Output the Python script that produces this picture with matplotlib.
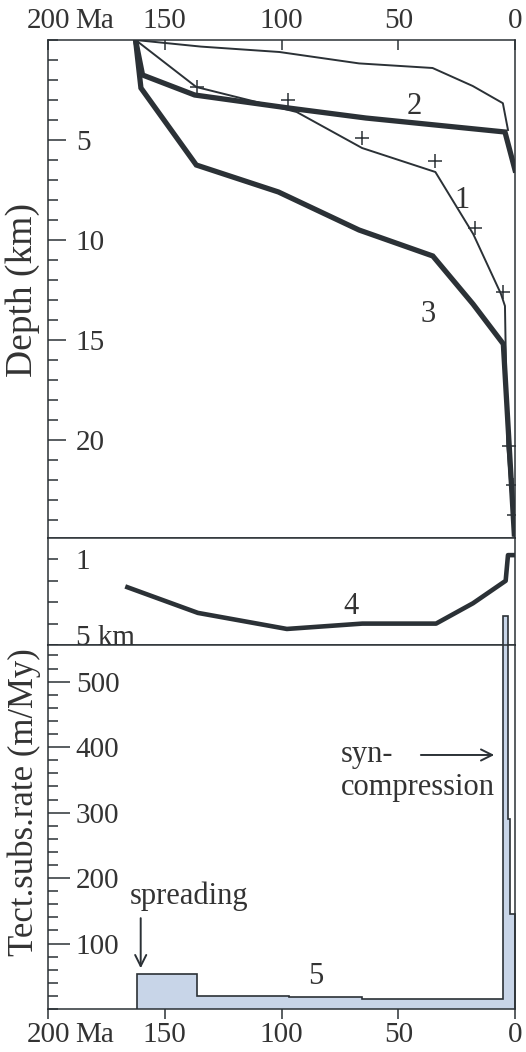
import matplotlib
matplotlib.use('Agg')
import matplotlib.pyplot as plt
from matplotlib.ticker import MultipleLocator, FixedLocator

plt.rcParams['font.family'] = ['Liberation Serif', 'DejaVu Serif']

ink = '#2b3136'
txt = '#333333'
fill = '#c8d5e8'

# ---- data ----
# top panel: burial curves, age (Ma) vs depth (km)
age_top = [162.5, 134.5, 100.9, 66.8, 35.3, 18.1, 5.2, 3.0]
dep_top = [0.0, 0.33, 0.6, 1.17, 1.4, 2.3, 3.16, 4.5]

age1 = [162.5, 136.5, 93.5, 65.5, 34.1, 17.9, 6.0, 4.3, 3.3, 0.3]
dep1 = [0.0, 2.35, 3.6, 5.4, 6.6, 9.7, 12.7, 13.3, 20.3, 24.8]

# measured points (+)
age_pts = [136.3, 97.3, 65.5, 34.1, 17.2, 5.3, 2.4, 1.0, 0.4]
dep_pts = [2.37, 3.0, 4.9, 6.05, 9.4, 12.6, 20.3, 22.25, 23.75]

age2 = [162.5, 159.5, 137.2, 97.0, 63.9, 4.3, 0.0]
dep2 = [0.0, 1.75, 2.75, 3.4, 3.9, 4.6, 6.5]

age3 = [162.5, 160.2, 136.5, 101.3, 66.8, 35.2, 18.0, 5.0, 0.3]
dep3 = [0.0, 2.4, 6.25, 7.6, 9.5, 10.8, 13.2, 15.2, 24.7]

# middle panel: curve 4
age4 = [166.0, 135.8, 97.7, 65.4, 33.8, 18.0, 4.0, 3.0, 0.0]
dep4 = [2.3, 3.5, 4.25, 4.0, 4.0, 3.05, 2.0, 0.8, 0.8]

# bottom panel: tectonic subsidence rate (m/My), step per interval
rate_edges = [0.0, 2.0, 3.0, 5.0, 33.8, 65.4, 96.8, 136.1, 161.9]
rate = [145, 290, 600, 15, 16, 18, 20, 54]

age_ticks = [200, 150, 100, 50, 0]
age_labels = ['200', '150', '100', '50', '0']
dep_ticks = [5, 10, 15, 20]
mid_ticks = [1, 2, 3, 4, 5]
mid_labels = ['1', '', '', '', '5 km']
rate_ticks = [100, 200, 300, 400, 500]

# ---- layout ----
fig = plt.figure(figsize=(5.26, 10.52), dpi=100)
L, W = 48 / 526, 467 / 526
ax1 = fig.add_axes([L, 1 - 538 / 1052, W, 498 / 1052])
ax2 = fig.add_axes([L, 1 - 645 / 1052, W, 107 / 1052])
ax3 = fig.add_axes([L, 1 - 1009 / 1052, W, 364 / 1052])

for ax in (ax1, ax2, ax3):
    ax.set_xlim(200, 0)
    for s in ax.spines.values():
        s.set_color(ink)
        s.set_linewidth(1.1)

# top panel
ax1.plot(age_top, dep_top, color=ink, lw=1.4)
ax1.plot(age1, dep1, color=ink, lw=1.4)
ax1.plot(age2, dep2, color=ink, lw=3.8, solid_joinstyle='miter')
ax1.plot(age3, dep3, color=ink, lw=3.8, solid_joinstyle='miter')
ax1.plot(age_pts, dep_pts, ls='none', marker='+', ms=10, mew=1.1, color=ink)
ax1.set_ylim(24.9, 0)
ax1.xaxis.tick_top()
ax1.set_xticks(age_ticks)
ax1.set_xticklabels(age_labels)
ax1.tick_params(axis='x', direction='in', length=7, width=1.1, pad=4,
                labelsize=21, color=ink, labelcolor=txt)
ax1.yaxis.set_major_locator(FixedLocator(dep_ticks))
ax1.yaxis.set_minor_locator(MultipleLocator(1))
ax1.tick_params(axis='y', which='major', direction='in', length=13, width=1.1,
                pad=-20, labelsize=21, color=ink, labelcolor=txt)
ax1.tick_params(axis='y', which='minor', direction='in', length=7, width=1.1, color=ink)
for t in ax1.get_yticklabels():
    t.set_ha('left')

ax1.text(22.8, 8.0, '1', fontsize=22, color=txt, ha='center', va='center')
ax1.text(43.1, 3.33, '2', fontsize=22, color=txt, ha='center', va='center')
ax1.text(37.4, 13.75, '3', fontsize=22, color=txt, ha='center', va='center')

# middle panel
ax2.plot(age4, dep4, color=ink, lw=3.3)
ax2.set_ylim(5.0, 0)
ax2.set_xticks([])
ax2.set_yticks(mid_ticks)
ax2.set_yticklabels(mid_labels)
ax2.tick_params(axis='y', direction='in', length=7, width=1.1, pad=-20,
                labelsize=21, color=ink, labelcolor=txt)
for t in ax2.get_yticklabels():
    t.set_ha('left')
ax2.get_yticklabels()[-1].set_va('baseline')
ax2.text(70.4, 3.2, '4', fontsize=22, color=txt, ha='center', va='center')

# bottom panel
ax3.stairs(rate, rate_edges, fill=True, color=fill, clip_on=False, zorder=2)
ax3.stairs(rate, rate_edges, color=ink, lw=1.2, clip_on=False, zorder=3)
ax3.set_ylim(0, 556)
ax3.set_xticks(age_ticks)
ax3.set_xticklabels(age_labels)
ax3.tick_params(axis='x', direction='out', length=7, width=1.1, pad=2,
                labelsize=21, color=ink, labelcolor=txt)
ax3.yaxis.set_major_locator(FixedLocator(rate_ticks))
ax3.yaxis.set_minor_locator(MultipleLocator(20))
ax3.tick_params(axis='y', which='major', direction='in', length=16, width=1.1,
                pad=-20, labelsize=21, color=ink, labelcolor=txt)
ax3.tick_params(axis='y', which='minor', direction='in', length=7, width=1.1, color=ink)
for t in ax3.get_yticklabels():
    t.set_ha('left')

ax3.text(85.5, 49, '5', fontsize=22, color=txt, ha='center', va='center')
ax3.text(139.4, 172, 'spreading', fontsize=22, color=txt, ha='center', va='center')
ax3.annotate('', xy=(160.3, 58), xytext=(160.3, 143),
             arrowprops=dict(arrowstyle='->', color=ink, lw=1.4, mutation_scale=20))
ax3.text(74.6, 377, 'syn-', fontsize=22, color=txt, ha='left', va='baseline')
ax3.text(74.6, 327, 'compression', fontsize=22, color=txt, ha='left', va='baseline')
ax3.annotate('', xy=(7.7, 388), xytext=(41.5, 388),
             arrowprops=dict(arrowstyle='->', color=ink, lw=1.4, mutation_scale=20))

# axis titles
fig.text(23 / 526, 1 - 290 / 1052, 'Depth (km)', rotation=90, fontsize=27,
         color=txt, ha='center', va='center')
fig.text(24 / 526, 1 - 802 / 1052, 'Tect.subs.rate (m/My)', rotation=90, fontsize=25,
         color=txt, ha='center', va='center')

# "Ma" unit written after the 200 tick label, top and bottom
top_200 = ax1.get_xticklabels()[0]
bot_200 = ax3.get_xticklabels()[0]
ax1.annotate('Ma', xy=(1, 0), xycoords=top_200, xytext=(4, 0), textcoords='offset points',
             fontsize=21, color=txt, ha='left', va='bottom', annotation_clip=False)
ax3.annotate('Ma', xy=(1, 1), xycoords=bot_200, xytext=(4, 0), textcoords='offset points',
             fontsize=21, color=txt, ha='left', va='top', annotation_clip=False)

fig.savefig('out.png', dpi=100)
